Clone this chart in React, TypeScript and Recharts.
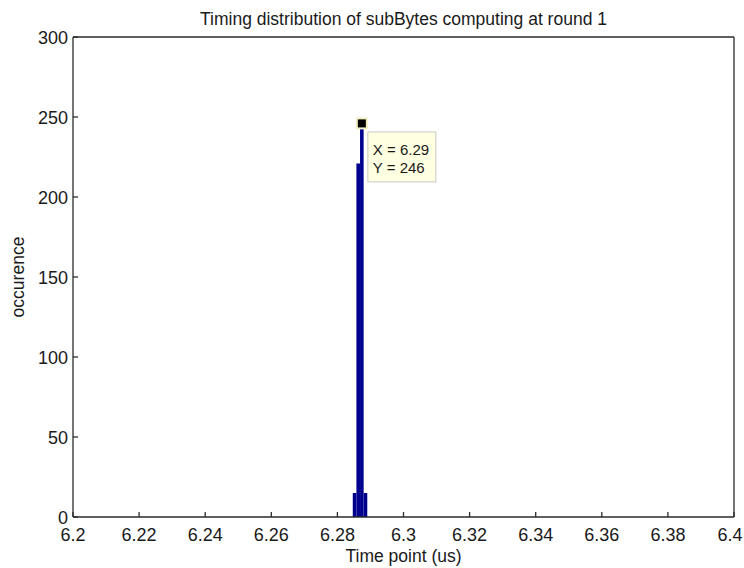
import React from 'react';
import { ComposedChart, Bar, XAxis, YAxis, ReferenceDot } from 'recharts';

// Histogram bins (bin centre in µs) and occurrences
const binCenters = [6.2852, 6.2863, 6.2874, 6.2885];
const binCounts = [15, 221, 246, 15];

const xTicks = [6.2, 6.22, 6.24, 6.26, 6.28, 6.3, 6.32, 6.34, 6.36, 6.38, 6.4];
const yTicks = [0, 50, 100, 150, 200, 250, 300];

const tipX = 6.2874;
const tipY = 246;
const tipLabelX = '6.29';
const tipLabelY = '246';

const title = 'Timing distribution of subBytes computing at round 1';
const xLabel = 'Time point (us)';
const yLabel = 'occurence';

const data = binCenters.map((x, i) => ({ x, count: binCounts[i] }));

const FONT = '"Liberation Sans", Arial, Helvetica, sans-serif';
const AXIS = '#2b2b2b';
const TEXT = '#1a1a1a';

const fmtX = (v: number) => String(Number(v.toFixed(2)));
const lastX = xTicks[xTicks.length - 1];

const XTick = (props: any) => {
  const { x, y, payload } = props;
  const last = Math.abs(Number(payload.value) - lastX) < 1e-9;
  return (
    <text
      x={last ? x - 4 : x}
      y={y}
      dy="0.71em"
      textAnchor="middle"
      fontSize={18}
      fontFamily={FONT}
      fill={TEXT}
    >
      {fmtX(payload.value)}
    </text>
  );
};

const DataTip = (props: any) => {
  const { cx, cy } = props;
  if (cx == null || cy == null) return null;
  return (
    <g>
      <rect x={cx + 6} y={cy + 8.5} width={68} height={50} fill="#ffffe1" stroke="#c8c8c8" strokeWidth={1} />
      <text x={cx + 11} y={cy + 31.5} fontSize={15} fontFamily={FONT} fill={TEXT}>
        {`X = ${tipLabelX}`}
      </text>
      <text x={cx + 11} y={cy + 50} fontSize={15} fontFamily={FONT} fill={TEXT}>
        {`Y = ${tipLabelY}`}
      </text>
      <rect x={cx - 5} y={cy - 5} width={10} height={10} fill="#000" stroke="#f3efc4" strokeWidth={2} />
    </g>
  );
};

export default function App() {
  return (
    <div style={{ position: 'relative', width: 744, height: 568, background: '#fff' }}>
      <style>{'html, body { margin: 0; padding: 0; background: #fff; }'}</style>
      <div
        style={{
          position: 'absolute',
          top: 9,
          left: 73,
          width: 661,
          textAlign: 'center',
          fontFamily: FONT,
          fontSize: 17.5,
          lineHeight: '20px',
          color: TEXT,
          whiteSpace: 'nowrap',
        }}
      >
        {title}
      </div>
      <ComposedChart
        width={744}
        height={568}
        data={data}
        margin={{ top: 37, right: 10, bottom: 0, left: 0 }}
      >
        <XAxis
          xAxisId="bottom"
          dataKey="x"
          type="number"
          domain={[6.2, 6.4]}
          ticks={xTicks}
          tickFormatter={fmtX}
          interval={0}
          height={51}
          tickSize={-5}
          tickMargin={16}
          stroke={AXIS}
          strokeWidth={1.3}
          tick={<XTick />}
          label={{ value: xLabel, position: 'insideBottom', offset: 6, fontSize: 17.5, fontFamily: FONT, fill: TEXT }}
        />
        <XAxis
          xAxisId="top"
          orientation="top"
          mirror
          type="number"
          domain={[6.2, 6.4]}
          ticks={xTicks}
          interval={0}
          height={30}
          tickSize={5}
          tick={false}
          stroke={AXIS}
          strokeWidth={1.3}
        />
        <YAxis
          yAxisId="left"
          type="number"
          domain={[0, 300]}
          ticks={yTicks}
          interval={0}
          width={73}
          tickSize={-5}
          tickMargin={10}
          stroke={AXIS}
          strokeWidth={1.3}
          tick={{ fontSize: 18, fontFamily: FONT, fill: TEXT, dy: 1 }}
          label={{ value: yLabel, angle: -90, position: 'insideLeft', offset: 18, fontSize: 17.5, fontFamily: FONT, fill: TEXT, style: { textAnchor: 'middle' } }}
        />
        <YAxis
          yAxisId="right"
          orientation="right"
          mirror
          type="number"
          domain={[0, 300]}
          ticks={yTicks}
          interval={0}
          width={30}
          tickSize={5}
          tick={false}
          stroke={AXIS}
          strokeWidth={1.3}
        />
        <Bar
          xAxisId="bottom"
          yAxisId="left"
          dataKey="count"
          fill="#00008f"
          barSize={3.6}
          isAnimationActive={false}
        />
        <ReferenceDot
          xAxisId="bottom"
          yAxisId="left"
          x={tipX}
          y={tipY}
          r={5}
          shape={DataTip}
          ifOverflow="visible"
        />
      </ComposedChart>
    </div>
  );
}
